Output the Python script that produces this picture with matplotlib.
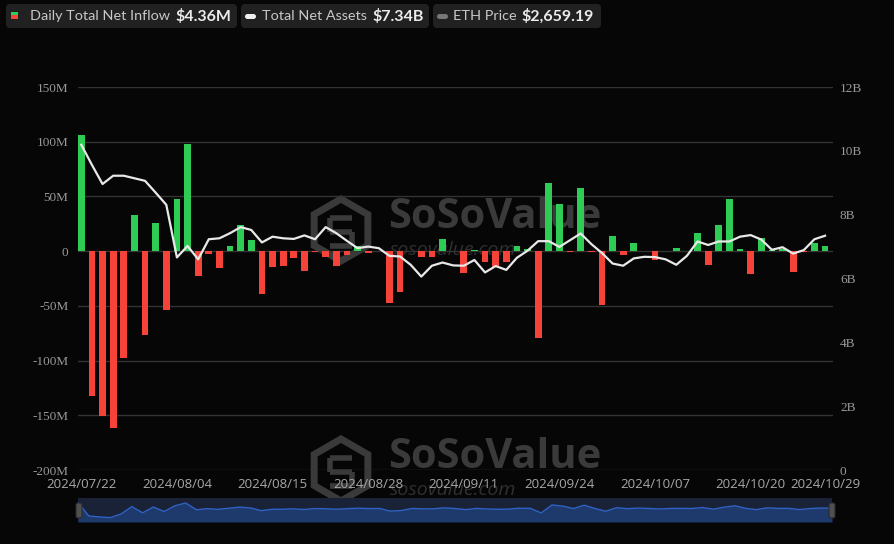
import matplotlib
matplotlib.use("Agg")
import matplotlib.pyplot as plt
from matplotlib.patches import FancyBboxPatch, RegularPolygon, Rectangle
import numpy as np

# ---------------- data ----------------
tick_labels = ["2024/07/22", "2024/08/04", "2024/08/15", "2024/08/28", "2024/09/11",
               "2024/09/24", "2024/10/07", "2024/10/20", "2024/10/29"]

# Daily total net inflow (USD millions), one per trading day
net_inflow = [106.0, -132.0, -151.0, -162.0, -98.0, 33.0, -77.0, 26.0, -54.0, 48.0,
              97.6, -23.0, -2.7, -15.5, 4.5, 23.6, 10.3, -38.8, -14.8, -13.3,
              -6.4, -17.9, -1.0, -5.3, -13.3, -3.5, 5.0, -1.5, 0.0, -47.0,
              -37.0, 0.0, -5.8, -5.5, 11.0, 0.0, -20.3, 1.2, -9.5, -14.5,
              -9.6, 4.8, 2.2, -79.0, 62.0, 43.0, -1.0, 58.0, -0.8, -49.0,
              14.0, -3.3, 7.2, 0.0, -8.2, 0.0, 2.5, 0.0, 16.5, -12.8,
              24.0, 48.0, 1.8, -20.8, 11.8, 1.3, 1.8, -19.2, -1.1, 7.2,
              4.36]

# Total net assets (USD billions)
net_assets = [10.19, 9.56, 8.96, 9.22, 9.22, 9.14, 9.06, 8.69, 8.31, 6.66,
              7.02, 6.60, 7.23, 7.26, 7.42, 7.61, 7.52, 7.13, 7.31, 7.26,
              7.24, 7.35, 7.23, 7.61, 7.42, 7.18, 6.95, 7.00, 6.95, 6.71,
              6.69, 6.43, 6.06, 6.40, 6.50, 6.41, 6.40, 6.58, 6.19, 6.39,
              6.27, 6.65, 6.87, 7.17, 7.17, 6.99, 7.20, 7.41, 7.08, 6.80,
              6.47, 6.40, 6.63, 6.68, 6.67, 6.60, 6.43, 6.71, 7.16, 7.05,
              7.16, 7.16, 7.31, 7.36, 7.22, 6.90, 6.98, 6.78, 6.89, 7.23,
              7.34]

left_ticks = [-200, -150, -100, -50, 0, 50, 100, 150]
left_tick_labels = ["-200M", "-150M", "-100M", "-50M", "0", "50M", "100M", "150M"]
right_ticks = [0, 2, 4, 6, 8, 10, 12]
right_tick_labels = ["0", "2B", "4B", "6B", "8B", "10B", "12B"]

legend_labels = ["Daily Total Net Inflow", "Total Net Assets", "ETH Price"]
legend_values = ["$4.36M", "$7.34B", "$2,659.19"]

# ---------------- style ----------------
BG = "#060606"
GREEN = "#2ecc55"
RED = "#f5433a"
GRID = "#333333"
TICK = "#999999"
W, H = 895, 544

fig = plt.figure(figsize=(W / 100, H / 100), dpi=100, facecolor=BG)
inch = fig.dpi_scale_trans


def px(x, y):
    return (x / 100.0, (H - y) / 100.0)


n = len(net_inflow)
x = np.arange(n)

# ---------------- watermarks (behind axes) ----------------
def watermark(cy):
    hexa = RegularPolygon(px(341, cy), numVertices=6, radius=0.31, orientation=0,
                          facecolor="none", edgecolor="#3a3a3a", linewidth=5,
                          transform=inch, zorder=-5)
    fig.add_artist(hexa)
    for (x0, y0, x1, y1) in [(330, cy - 12, 352, cy - 12), (330, cy - 12, 330, cy + 2),
                             (330, cy + 2, 352, cy + 2), (352, cy + 2, 352, cy + 16),
                             (330, cy + 16, 352, cy + 16)]:
        fig.add_artist(plt.Line2D([x0 / 100, x1 / 100], [(H - y0) / 100, (H - y1) / 100],
                                  color="#3a3a3a", linewidth=4, transform=inch,
                                  zorder=-5, solid_capstyle="butt"))
    fig.text(388 / W, 1 - (cy - 12) / H, "SoSoValue", fontsize=30, fontweight="bold",
             color="#3a3a3a", family="Open Sans", ha="left", va="center", zorder=-5)
    fig.text(390 / W, 1 - (cy + 20) / H, "sosovalue.com", fontsize=14, style="italic",
             color="#303030", family="Open Sans", ha="left", va="center", zorder=-5)


watermark(230)
watermark(470)

# ---------------- main axes ----------------
ax = fig.add_axes([78 / W, 1 - 470 / H, 755 / W, 383 / H])
ax.set_facecolor("none")
ax.set_zorder(1)
colors = [GREEN if v >= 0 else RED for v in net_inflow]
ax.bar(x, net_inflow, width=0.64, color=colors, zorder=3)
ax.set_ylim(-200, 150)
ax.set_xlim(-0.31, n - 1 + 0.75)
ax.set_yticks(left_ticks)
ax.set_yticklabels(left_tick_labels, family="Liberation Serif", fontsize=9.5, color=TICK)
tick_pos = list(range(0, n - 1, 9)) + [n - 1]
ax.set_xticks(tick_pos)
ax.set_xticklabels(tick_labels, family="Open Sans", fontsize=9.5, color="#a8a8a8")
ax.tick_params(axis="y", length=0, pad=7)
ax.tick_params(axis="x", length=0, pad=6)
ax.yaxis.grid(True, color=GRID, linewidth=1, zorder=0)
ax.set_axisbelow(True)
for s in ax.spines.values():
    s.set_visible(False)

ax2 = ax.twinx()
ax2.plot(x, net_assets, color="#e8e8e8", linewidth=1.6, zorder=4,
         solid_joinstyle="round")
ax2.set_ylim(0, 12)
ax2.set_yticks(right_ticks)
ax2.set_yticklabels(right_tick_labels, family="Liberation Serif", fontsize=9.5, color=TICK)
ax2.tick_params(axis="y", length=0, pad=5)
for s in ax2.spines.values():
    s.set_visible(False)

# ---------------- navigator ----------------
nav = fig.add_axes([78 / W, 1 - 522 / H, 754 / W, 24 / H])
nav.set_facecolor("#1a2238")
nav.fill_between(x, net_inflow, -240, color="#1e3a6c", linewidth=0)
nav.plot(x, net_inflow, color="#2f62c4", linewidth=1)
nav.set_xlim(0, n - 1)
nav.set_ylim(-240, 186)
nav.set_xticks([])
nav.set_yticks([])
for s in nav.spines.values():
    s.set_visible(False)
for hx in (79, 832):
    fig.add_artist(FancyBboxPatch(px(hx - 3, 518), 0.06, 0.15,
                                  boxstyle="round,pad=0,rounding_size=0.02",
                                  facecolor="#505050", edgecolor="#2a2a2a",
                                  linewidth=0.8, transform=inch, zorder=5))

# ---------------- legend boxes ----------------
boxes = [(6, 237), (241, 429), (433, 601)]
label_x = [30, 262, 453]
value_x = [175, 372, 521]
for (x0, x1) in boxes:
    fig.add_artist(FancyBboxPatch(px(x0, 28), (x1 - x0) / 100, 0.24,
                                  boxstyle="round,pad=0,rounding_size=0.04",
                                  facecolor="#212121", edgecolor="none",
                                  transform=inch, zorder=5))
fig.add_artist(Rectangle(px(11, 15.5), 0.07, 0.035, facecolor=GREEN, edgecolor="none",
                         transform=inch, zorder=6))
fig.add_artist(Rectangle(px(11, 19), 0.07, 0.035, facecolor=RED, edgecolor="none",
                         transform=inch, zorder=6))
fig.add_artist(FancyBboxPatch(px(245, 19), 0.11, 0.05,
                              boxstyle="round,pad=0,rounding_size=0.025",
                              facecolor="#f0f0f0", edgecolor="none", transform=inch, zorder=6))
fig.add_artist(FancyBboxPatch(px(437, 19), 0.11, 0.05,
                              boxstyle="round,pad=0,rounding_size=0.025",
                              facecolor="#777777", edgecolor="none", transform=inch, zorder=6))
for lab, val, lx, vx in zip(legend_labels, legend_values, label_x, value_x):
    fig.text(lx / W, 1 - 16.5 / H, lab, fontsize=10.4, color="#c8c8c8", family="Lato",
             ha="left", va="center", zorder=7)
    fig.text(vx / W, 1 - 16.5 / H, val, fontsize=11.5, fontweight="bold", color="#ececec",
             family="Lato", ha="left", va="center", zorder=7)

fig.savefig("out.png", dpi=100, facecolor=BG)
